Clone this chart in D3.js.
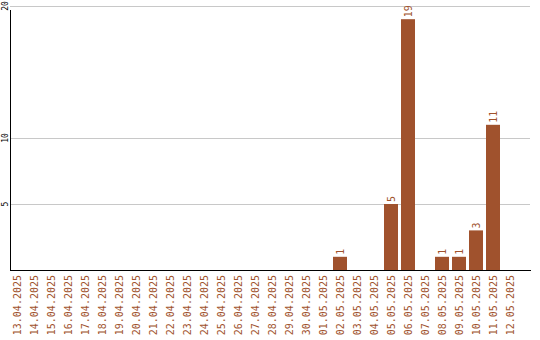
<!DOCTYPE html>
<html lang="de">
<head>
<meta charset="UTF-8">
<title>Tageswerte</title>
<style>
  body { margin: 0; background: #fff; }
  text { font-family: "DejaVu Sans Mono", monospace; }
</style>
</head>
<body>
<script src="https://d3js.org/d3.v7.min.js"></script>
<div id="chart"></div>
<script>
// dates (x categories) and the count for each day
const days = [
  "13.04.2025","14.04.2025","15.04.2025","16.04.2025","17.04.2025","18.04.2025",
  "19.04.2025","20.04.2025","21.04.2025","22.04.2025","23.04.2025","24.04.2025",
  "25.04.2025","26.04.2025","27.04.2025","28.04.2025","29.04.2025","30.04.2025",
  "01.05.2025","02.05.2025","03.05.2025","04.05.2025","05.05.2025","06.05.2025",
  "07.05.2025","08.05.2025","09.05.2025","10.05.2025","11.05.2025","12.05.2025"
];
const counts = [
  0,0,0,0,0,0,
  0,0,0,0,0,0,
  0,0,0,0,0,0,
  0,1,0,0,5,19,
  0,1,1,3,11,0
];
const yTicks = [5, 10, 20];

const width = 540, height = 340;
const color = "#a0522d";

const svg = d3.select("#chart").append("svg")
  .attr("width", width)
  .attr("height", height);

const x = d3.scaleBand()
  .domain(days)
  .range([8.5, 518.5])
  .padding(0);

const y = d3.scaleLinear()
  .domain([0, 20])
  .range([270, 6]);

// horizontal grid lines
svg.append("g")
  .selectAll("line")
  .data(yTicks)
  .join("line")
    .attr("x1", 10)
    .attr("x2", 530)
    .attr("y1", d => Math.round(y(d)) + 0.5)
    .attr("y2", d => Math.round(y(d)) + 0.5)
    .attr("stroke", "#c8c8c8");

// y tick labels, rotated
svg.append("g")
  .selectAll("text")
  .data(yTicks)
  .join("text")
    .attr("transform", d => "translate(8," + y(d) + ") rotate(-90)")
    .attr("text-anchor", "middle")
    .style("font-size", "8px")
    .attr("fill", "#000")
    .text(d => d);

const data = days.map((d, i) => ({ day: d, value: counts[i] }));

// bars
svg.append("g")
  .selectAll("rect")
  .data(data.filter(d => d.value > 0))
  .join("rect")
    .attr("x", d => x(d.day) + 1.5)
    .attr("width", x.bandwidth() - 3)
    .attr("y", d => y(d.value))
    .attr("height", d => y(0) - y(d.value))
    .attr("fill", color);

// value labels above bars
svg.append("g")
  .selectAll("text")
  .data(data.filter(d => d.value > 0))
  .join("text")
    .attr("transform", d => "translate(" + (x(d.day) + x.bandwidth() / 2) + "," + (y(d.value) - 2) + ") rotate(-90)")
    .attr("dy", "0.35em")
    .style("font-size", "10px")
    .attr("fill", color)
    .text(d => d.value);

// x labels
svg.append("g")
  .selectAll("text")
  .data(days)
  .join("text")
    .attr("transform", d => "translate(" + (x(d) + x.bandwidth() / 2) + ",275) rotate(-90)")
    .attr("text-anchor", "end")
    .attr("dy", "0.35em")
    .style("font-size", "10px")
    .attr("fill", color)
    .text(d => d);

// axis lines
svg.append("line")
  .attr("x1", 10.5).attr("x2", 10.5)
  .attr("y1", 10).attr("y2", 271)
  .attr("stroke", "#000");
svg.append("line")
  .attr("x1", 10).attr("x2", 531)
  .attr("y1", 270.5).attr("y2", 270.5)
  .attr("stroke", "#000");
</script>
</body>
</html>
